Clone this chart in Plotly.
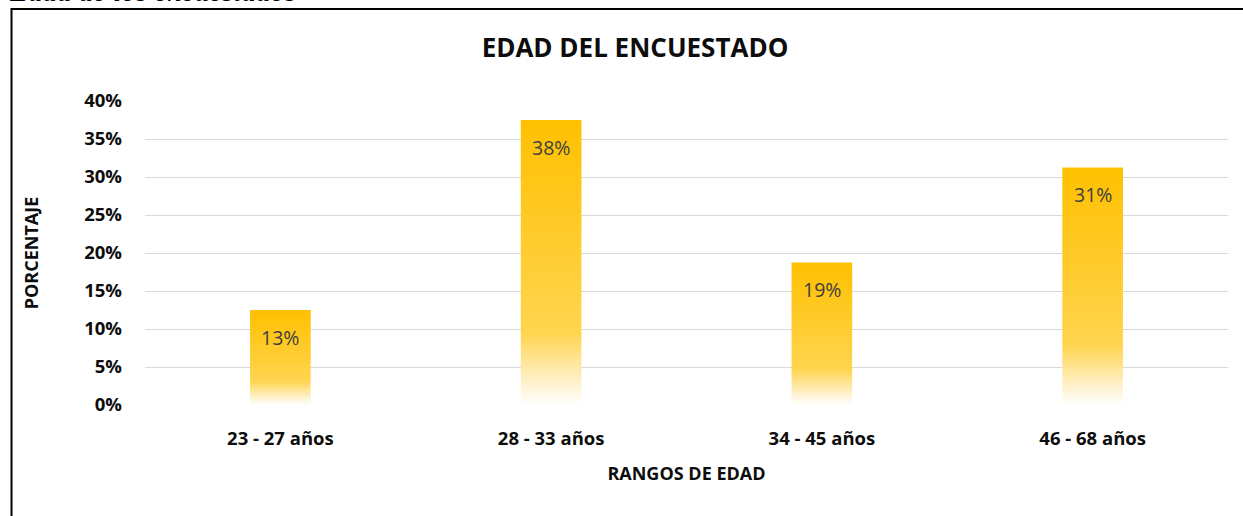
import plotly.graph_objects as go

categories = ["23 - 27 años", "28 - 33 años", "34 - 45 años", "46 - 68 años"]
values = [0.125, 0.375, 0.1875, 0.3125]
labels = ["13%", "38%", "19%", "31%"]
y_ticks = [0, 0.05, 0.10, 0.15, 0.20, 0.25, 0.30, 0.35, 0.40]
y_ticktext = ["0%", "5%", "10%", "15%", "20%", "25%", "30%", "35%", "40%"]

W, H = 1243, 516
L, R, T, B = 145, 15, 101, 111
PW, PH = W - L - R, H - T - B

def px_x(p):
    return (p - L) / PW

def px_y(p):
    return (H - B - p) / PH

FONT = "Open Sans"
half = 0.112
gradient = [[0.0, "#FFFFFF"], [0.08, "#FFF1CC"], [0.25, "#FFD550"], [1.0, "#FFC000"]]

fig = go.Figure()
for i, (cat, v) in enumerate(zip(categories, values)):
    fig.add_trace(go.Scatter(
        x=[i - half, i - half, i + half, i + half, i - half],
        y=[0, v, v, 0, 0],
        mode="lines", line=dict(width=0),
        fill="toself",
        fillgradient=dict(type="vertical", colorscale=gradient),
        name=cat, showlegend=False, hoverinfo="skip",
    ))

for i, (v, lab) in enumerate(zip(values, labels)):
    fig.add_annotation(x=i, y=v, text=lab, showarrow=False, yanchor="middle",
                       yshift=-27, font=dict(family=FONT, size=19.5, color="#404040"))

fig.add_annotation(xref="paper", yref="paper", x=px_x(7), y=px_y(9),
                   xanchor="left", yanchor="bottom", showarrow=False,
                   text="<i>Edad de los encuestados</i>",
                   font=dict(family="Liberation Serif", size=29, color="#000000"))

fig.add_shape(type="rect", xref="paper", yref="paper",
              x0=px_x(11.5), x1=px_x(1260), y0=px_y(530), y1=px_y(9),
              line=dict(color="#000000", width=2), fillcolor="rgba(0,0,0,0)", layer="above")

fig.update_layout(
    width=W, height=H, autosize=False,
    margin=dict(l=L, r=R, t=T, b=B),
    paper_bgcolor="white", plot_bgcolor="white",
    title=dict(text="<b>EDAD DEL ENCUESTADO</b>", xref="container", x=635 / W, xanchor="center",
               yref="container", y=1 - 48 / H, yanchor="middle",
               font=dict(family=FONT, size=26, color="#0D0D0D")),
    xaxis=dict(range=[-0.5, 3.5], tickmode="array", tickvals=list(range(len(categories))),
               ticktext=[f"<b>{c}</b>" for c in categories], showgrid=False, zeroline=False,
               showline=False, ticks="", ticklabelstandoff=20,
               tickfont=dict(family=FONT, size=18.5, color="#0D0D0D"),
               title=dict(text="<b>RANGOS DE EDAD</b>", standoff=18,
                          font=dict(family=FONT, size=18, color="#0D0D0D"))),
    yaxis=dict(range=[0, 0.4], tickmode="array", tickvals=y_ticks,
               ticktext=[f"<b>{t}</b>" for t in y_ticktext],
               showgrid=True, gridcolor="#D9D9D9", gridwidth=1, zeroline=False,
               showline=False, ticks="", ticklabelstandoff=22,
               tickfont=dict(family=FONT, size=18.5, color="#0D0D0D"),
               title=dict(text="<b>PORCENTAJE</b>", standoff=40,
                          font=dict(family=FONT, size=18, color="#0D0D0D"))),
)

fig.write_html("out.html", config={"displayModeBar": False},
               post_script="document.body.style.margin='0px';")
